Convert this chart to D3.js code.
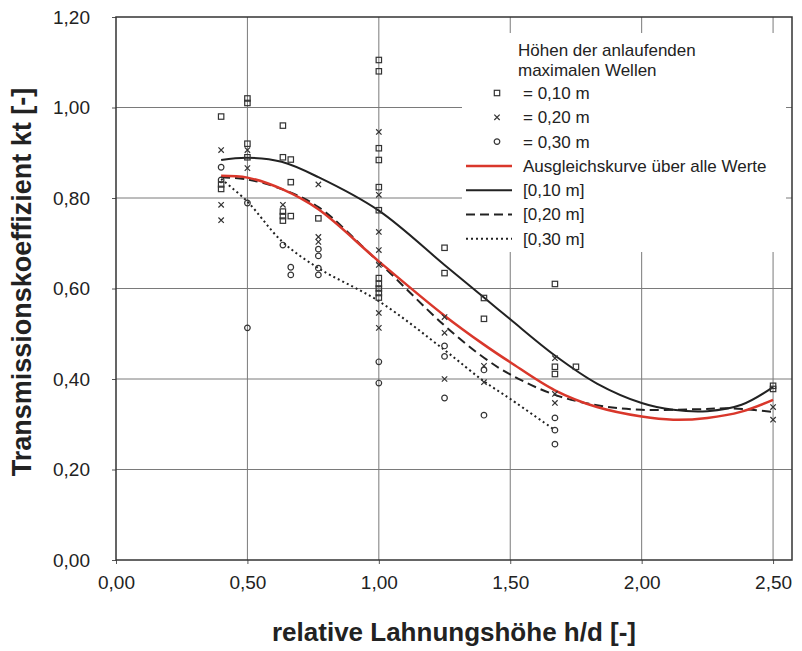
<!DOCTYPE html>
<html><head><meta charset="utf-8">
<script src="https://cdn.jsdelivr.net/npm/d3@7"></script>
<style>body{margin:0;background:#fff}svg{display:block}</style>
</head><body>
<svg id="c" width="802" height="651"></svg>
<script>
// ---- data ----
const xTicks = [0, 0.5, 1.0, 1.5, 2.0, 2.5];
const yTicks = [0, 0.2, 0.4, 0.6, 0.8, 1.0, 1.2];
const squares10 = [
 [0.4,0.98],[0.4,0.83],[0.4,0.82],
 [0.5,1.02],[0.5,1.01],[0.5,0.92],[0.5,0.89],
 [0.635,0.96],[0.635,0.89],[0.665,0.885],[0.665,0.835],[0.635,0.77],[0.635,0.76],[0.665,0.76],[0.635,0.75],
 [0.77,0.755],
 [1.0,1.105],[1.0,1.08],[1.0,0.91],[1.0,0.884],[1.0,0.824],[1.0,0.773],[1.0,0.623],[1.0,0.61],[1.0,0.60],[1.0,0.59],[1.0,0.58],
 [1.25,0.69],[1.25,0.634],
 [1.4,0.579],[1.4,0.533],
 [1.67,0.61],[1.67,0.427],[1.67,0.411],
 [1.75,0.427],
 [2.5,0.385],[2.5,0.378]
];
const crosses20 = [
 [0.4,0.906],[0.4,0.785],[0.4,0.751],
 [0.5,0.906],[0.5,0.866],
 [0.635,0.785],
 [0.77,0.83],[0.77,0.714],[0.77,0.703],
 [1.0,0.946],[1.0,0.807],[1.0,0.725],[1.0,0.685],[1.0,0.652],[1.0,0.546],[1.0,0.513],
 [1.25,0.537],[1.25,0.502],[1.25,0.40],
 [1.4,0.429],[1.4,0.393],
 [1.67,0.446],[1.67,0.367],[1.67,0.347],
 [2.5,0.338],[2.5,0.31]
];
const circles30 = [
 [0.4,0.868],[0.4,0.84],
 [0.5,0.789],[0.5,0.513],
 [0.635,0.696],[0.665,0.647],[0.665,0.63],
 [0.77,0.687],[0.77,0.672],[0.77,0.645],[0.77,0.63],
 [1.0,0.438],[1.0,0.391],
 [1.25,0.473],[1.25,0.45],[1.25,0.358],
 [1.4,0.42],[1.4,0.32],
 [1.67,0.314],[1.67,0.287],[1.67,0.256]
];
const fitAll = [[0.4,0.849],[0.5,0.845],[0.63,0.82],[0.77,0.775],[1.0,0.66],[1.25,0.54],[1.4,0.476],[1.5,0.437],[1.67,0.375],[1.83,0.338],[2.0,0.317],[2.12,0.31],[2.25,0.314],[2.38,0.328],[2.5,0.354]];
const fit10 = [[0.4,0.884],[0.5,0.889],[0.63,0.88],[0.77,0.846],[1.0,0.772],[1.25,0.652],[1.4,0.58],[1.5,0.532],[1.67,0.452],[1.83,0.39],[2.0,0.347],[2.12,0.332],[2.25,0.329],[2.38,0.343],[2.5,0.382]];
const fit20 = [[0.4,0.846],[0.5,0.841],[0.63,0.82],[0.77,0.78],[1.0,0.658],[1.25,0.518],[1.4,0.447],[1.5,0.41],[1.67,0.365],[1.83,0.342],[2.0,0.332],[2.2,0.333],[2.34,0.335],[2.5,0.327]];
const fit30 = [[0.4,0.842],[0.5,0.792],[0.63,0.705],[0.77,0.645],[1.0,0.572],[1.25,0.464],[1.4,0.395],[1.5,0.356],[1.67,0.287]];
const legendTitle = ["Höhen der anlaufenden","maximalen  Wellen"];
const legendItems = [
 {label:"= 0,10 m", type:"square"},
 {label:"= 0,20 m", type:"cross"},
 {label:"= 0,30 m", type:"circle"},
 {label:"Ausgleichskurve  über alle Werte", type:"red"},
 {label:"[0,10 m]", type:"solid"},
 {label:"[0,20 m]", type:"dash"},
 {label:"[0,30 m]", type:"dot"}
];

// ---- layout ----
const svg = d3.select("#c");
const L=116, R=792, T=17, B=560;
const x = d3.scaleLinear().domain([0,2.572]).range([L,R]);
const y = d3.scaleLinear().domain([0,1.2]).range([B,T]);
const fmt = d => d3.format(".2f")(d).replace(".", ",");
const font = "Arial, 'Liberation Sans', sans-serif";
const ink = "#333";

// grid
const g = svg.append("g");
g.selectAll(".hg").data(yTicks.filter(d=>d>0 && d<1.2)).join("line")
 .attr("x1",L).attr("x2",R).attr("y1",d=>y(d)).attr("y2",d=>y(d))
 .attr("stroke","#7a7a7a").attr("stroke-width",1);
g.selectAll(".vg").data(xTicks.filter(d=>d>0)).join("line")
 .attr("y1",T).attr("y2",B).attr("x1",d=>x(d)).attr("x2",d=>x(d))
 .attr("stroke","#7a7a7a").attr("stroke-width",1);

// axes
const xa = svg.append("g").attr("transform",`translate(0,${B})`)
 .call(d3.axisBottom(x).tickValues(xTicks).tickFormat(fmt).tickSize(4).tickPadding(12));
const ya = svg.append("g").attr("transform",`translate(${L},0)`)
 .call(d3.axisLeft(y).tickValues(yTicks).tickFormat(fmt).tickSize(4).tickPadding(22));
[xa,ya].forEach(a=>{
  a.select(".domain").remove();
  a.selectAll(".tick line").attr("stroke","#555");
  a.selectAll("text").attr("font-family",font).attr("font-size",19).attr("fill","#222");
});

// legend background (hides grid)
svg.append("rect").attr("x",462).attr("y",33).attr("width",324).attr("height",219).attr("fill","#fff");

// frame
svg.append("rect").attr("x",L).attr("y",T).attr("width",R-L).attr("height",B-T)
 .attr("fill","none").attr("stroke","#333").attr("stroke-width",1.5);

// fit lines
const line = d3.line().x(d=>x(d[0])).y(d=>y(d[1])).curve(d3.curveCatmullRom.alpha(0.5));
svg.append("path").attr("d",line(fit30)).attr("fill","none").attr("stroke","#222").attr("stroke-width",2).attr("stroke-dasharray","2,3");
svg.append("path").attr("d",line(fit20)).attr("fill","none").attr("stroke","#222").attr("stroke-width",2).attr("stroke-dasharray","9,5");
svg.append("path").attr("d",line(fitAll)).attr("fill","none").attr("stroke","#d9372b").attr("stroke-width",2.5);
svg.append("path").attr("d",line(fit10)).attr("fill","none").attr("stroke","#222").attr("stroke-width",2);

// markers
function drawMarker(sel, type){
  if(type==="square") sel.append("rect").attr("x",-2.7).attr("y",-2.7).attr("width",5.4).attr("height",5.4).attr("fill","none").attr("stroke",ink).attr("stroke-width",1.2);
  if(type==="cross") sel.append("path").attr("d","M-2.7,-2.7L2.7,2.7M-2.7,2.7L2.7,-2.7").attr("stroke",ink).attr("stroke-width",1.2);
  if(type==="circle") sel.append("circle").attr("r",2.8).attr("fill","none").attr("stroke",ink).attr("stroke-width",1.2);
}
[[squares10,"square"],[crosses20,"cross"],[circles30,"circle"]].forEach(([data,type])=>{
  svg.append("g").selectAll("g").data(data).join("g")
    .attr("transform",d=>`translate(${x(d[0])},${y(d[1])})`)
    .each(function(){ drawMarker(d3.select(this),type); });
});

// legend
const lg = svg.append("g").attr("font-family",font).attr("font-size",17).attr("fill","#222");
legendTitle.forEach((t,i)=>lg.append("text").attr("x",518).attr("y",56+i*20).text(t));
legendItems.forEach((it,i)=>{
  const cy = 93 + i*24.3;
  const row = lg.append("g").attr("transform",`translate(0,${cy})`);
  if(["square","cross","circle"].includes(it.type)){
    const m=row.append("g").attr("transform","translate(497,0)"); drawMarker(m,it.type);
  } else {
    const st = it.type==="red"?"#d9372b":"#222";
    row.append("line").attr("x1",466).attr("x2",512).attr("y1",0).attr("y2",0)
      .attr("stroke",st).attr("stroke-width",it.type==="red"?2.5:2)
      .attr("stroke-dasharray",it.type==="dash"?"9,5":it.type==="dot"?"2,3":null);
  }
  row.append("text").attr("x",523).attr("y",0).attr("dy","0.35em").text(it.label);
});

// titles
svg.append("text").attr("x",454).attr("y",641).attr("text-anchor","middle")
 .attr("font-family",font).attr("font-weight","bold").attr("font-size",26).attr("fill","#222")
 .text("relative Lahnungshöhe h/d [-]");
svg.append("text").attr("transform","translate(31,282) rotate(-90)").attr("text-anchor","middle")
 .attr("font-family",font).attr("font-weight","bold").attr("font-size",27).attr("fill","#222")
 .text("Transmissionskoeffizient kt [-]");
</script>
</body></html>
